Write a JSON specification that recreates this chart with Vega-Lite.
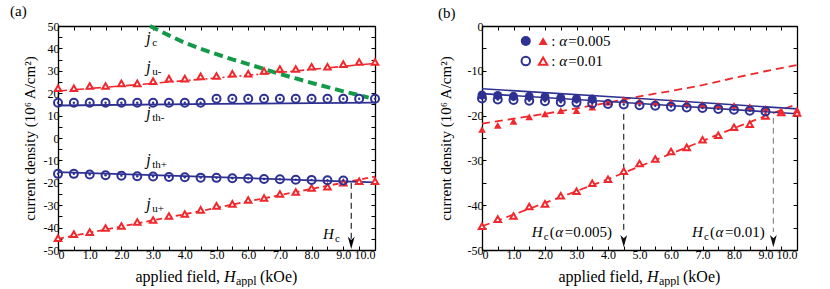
{
"$schema":"https://vega.github.io/schema/vega-lite/v6.json",
"padding":{"left":10,"top":4,"right":5,"bottom":0},
"spacing":55,
"config":{
 "view":{"stroke":null},
 "font":"Liberation Serif",
 "axis":{"domainColor":"black","domainWidth":1.3,"tickColor":"black","tickWidth":1,"tickSize":-4,"labelFont":"Liberation Serif","labelFontSize":12,"labelColor":"black","labelPadding":3,"titleFont":"Liberation Serif","titleFontSize":15,"titleFontWeight":"normal","titleColor":"black","grid":false,"labelOverlap":false,"labelBound":false},
 "title":{"font":"Liberation Serif","fontSize":15,"fontWeight":"normal","anchor":"start","frame":"bounds","offset":-1,"color":"black"},
 "text":{"font":"Liberation Serif","color":"black"}
},
"datasets":{
 "a_lines":[
  {"s":"jc","x":2.9,"y":50},{"s":"jc","x":3.5,"y":45.8},{"s":"jc","x":4,"y":42.5},{"s":"jc","x":4.5,"y":39.8},{"s":"jc","x":5,"y":37.4},{"s":"jc","x":5.5,"y":35.1},{"s":"jc","x":6,"y":33},{"s":"jc","x":6.5,"y":30.8},{"s":"jc","x":7,"y":28.6},{"s":"jc","x":7.5,"y":26.6},{"s":"jc","x":8,"y":24.6},{"s":"jc","x":8.5,"y":22.7},{"s":"jc","x":9,"y":20.8},{"s":"jc","x":9.5,"y":19.1},{"s":"jc","x":9.8,"y":18},
  {"s":"ju-","x":0,"y":21.0},{"s":"ju-","x":1,"y":22.1},{"s":"ju-","x":2,"y":23.2},{"s":"ju-","x":3,"y":24.4},{"s":"ju-","x":4,"y":25.6},{"s":"ju-","x":5,"y":26.8},{"s":"ju-","x":6,"y":28.0},{"s":"ju-","x":7,"y":29.3},{"s":"ju-","x":8,"y":30.6},{"s":"ju-","x":9,"y":32.0},{"s":"ju-","x":10,"y":33.3},
  {"s":"jth-","x":0,"y":14.5},{"s":"jth-","x":5,"y":15.2},{"s":"jth-","x":10,"y":15.8},
  {"s":"jth+","x":0,"y":-15.2},{"s":"jth+","x":2,"y":-16.1},{"s":"jth+","x":4,"y":-17.0},{"s":"jth+","x":6,"y":-17.9},{"s":"jth+","x":8,"y":-18.9},{"s":"jth+","x":10,"y":-19.8},
  {"s":"ju+","x":0,"y":-45},{"s":"ju+","x":2,"y":-39.5},{"s":"ju+","x":4,"y":-34},{"s":"ju+","x":6,"y":-28.3},{"s":"ju+","x":8,"y":-22.7},{"s":"ju+","x":10,"y":-17.2}
 ],
 "a_pts":[
  {"s":"t","x":0,"y":22.2},{"s":"t","x":0.5,"y":22.2},{"s":"t","x":1,"y":23.2},{"s":"t","x":1.5,"y":23.2},{"s":"t","x":2,"y":24.4},{"s":"t","x":2.5,"y":24.4},{"s":"t","x":3,"y":25.4},{"s":"t","x":3.5,"y":26.5},{"s":"t","x":4,"y":26.5},{"s":"t","x":4.5,"y":27.5},{"s":"t","x":5,"y":27.7},{"s":"t","x":5.5,"y":28.7},{"s":"t","x":6,"y":28.7},{"s":"t","x":6.5,"y":29.9},{"s":"t","x":7,"y":30.8},{"s":"t","x":7.5,"y":30.8},{"s":"t","x":8,"y":31.8},{"s":"t","x":8.5,"y":31.8},{"s":"t","x":9,"y":33.0},{"s":"t","x":9.5,"y":33.9},{"s":"t","x":10,"y":33.9},
  {"s":"t","x":0,"y":-44.7},{"s":"t","x":0.5,"y":-42.9},{"s":"t","x":1,"y":-42.0},{"s":"t","x":1.5,"y":-40.2},{"s":"t","x":2,"y":-39.3},{"s":"t","x":2.5,"y":-37.5},{"s":"t","x":3,"y":-36.6},{"s":"t","x":3.5,"y":-34.8},{"s":"t","x":4,"y":-33.9},{"s":"t","x":4.5,"y":-32.1},{"s":"t","x":5,"y":-30.3},{"s":"t","x":5.5,"y":-29.4},{"s":"t","x":6,"y":-27.7},{"s":"t","x":6.5,"y":-26.8},{"s":"t","x":7,"y":-25.0},{"s":"t","x":7.5,"y":-24.1},{"s":"t","x":8,"y":-22.3},{"s":"t","x":8.5,"y":-21.7},{"s":"t","x":9,"y":-20.0},{"s":"t","x":9.5,"y":-19.3},{"s":"t","x":10,"y":-19.3},
  {"s":"c","x":0,"y":15.7},{"s":"c","x":0.5,"y":15.7},{"s":"c","x":1,"y":15.7},{"s":"c","x":1.5,"y":15.7},{"s":"c","x":2,"y":15.7},{"s":"c","x":2.5,"y":15.7},{"s":"c","x":3,"y":15.7},{"s":"c","x":3.5,"y":15.7},{"s":"c","x":4,"y":15.7},{"s":"c","x":4.5,"y":15.7},{"s":"c","x":5,"y":17.5},{"s":"c","x":5.5,"y":17.5},{"s":"c","x":6,"y":17.5},{"s":"c","x":6.5,"y":17.5},{"s":"c","x":7,"y":17.5},{"s":"c","x":7.5,"y":17.5},{"s":"c","x":8,"y":17.5},{"s":"c","x":8.5,"y":17.5},{"s":"c","x":9,"y":17.5},{"s":"c","x":9.5,"y":17.5},{"s":"c","x":10,"y":17.5},
  {"s":"c","x":0,"y":-16.0},{"s":"c","x":0.5,"y":-16.0},{"s":"c","x":1,"y":-16.3},{"s":"c","x":1.5,"y":-16.6},{"s":"c","x":2,"y":-16.8},{"s":"c","x":2.5,"y":-17.1},{"s":"c","x":3,"y":-17.2},{"s":"c","x":3.5,"y":-17.4},{"s":"c","x":4,"y":-17.5},{"s":"c","x":4.5,"y":-17.7},{"s":"c","x":5,"y":-17.8},{"s":"c","x":5.5,"y":-18.0},{"s":"c","x":6,"y":-18.1},{"s":"c","x":6.5,"y":-18.3},{"s":"c","x":7,"y":-18.4},{"s":"c","x":7.5,"y":-18.6},{"s":"c","x":8,"y":-18.7},{"s":"c","x":8.5,"y":-18.9},{"s":"c","x":9,"y":-19.0}
 ],
 "a_lab":[
  {"x":2.78,"y":42.6,"m":"j","sub":"c"},{"x":2.78,"y":29.6,"m":"j","sub":"u-"},{"x":2.78,"y":9.1,"m":"j","sub":"th-"},{"x":2.78,"y":-12.2,"m":"j","sub":"th+"},{"x":2.78,"y":-31.7,"m":"j","sub":"u+"}
 ],
 "a_hc":[{"x":8.36,"y":-45.1,"m":"H","sub":"c"}],
 "a_rule":[{"x":9.25,"y":-20,"y2":-45}],
 "a_arrow":[{"x":9.25,"y":-46.8}],
 "xt":[{"x":5,"y":-50}],
 "b_lines":[
  {"s":"th1","x":0,"y":-14.0},{"s":"th1","x":5,"y":-16.2},{"s":"th1","x":10,"y":-18.5},
  {"s":"th2","x":0,"y":-15.1},{"s":"th2","x":5,"y":-17.3},{"s":"th2","x":10,"y":-19.6},
  {"s":"u1","x":0,"y":-21.8},{"s":"u1","x":1,"y":-20.7},{"s":"u1","x":2,"y":-19.6},{"s":"u1","x":3,"y":-18.4},{"s":"u1","x":4,"y":-17.1},{"s":"u1","x":5,"y":-15.7},{"s":"u1","x":6,"y":-14.5},{"s":"u1","x":7,"y":-13.2},{"s":"u1","x":8,"y":-11.6},{"s":"u1","x":9,"y":-10.1},{"s":"u1","x":10,"y":-8.7},
  {"s":"u2","x":0,"y":-44.7},{"s":"u2","x":2,"y":-39.5},{"s":"u2","x":4,"y":-34.2},{"s":"u2","x":6,"y":-28.5},{"s":"u2","x":8,"y":-22.8},{"s":"u2","x":10,"y":-17.4}
 ],
 "b_pts":[
  {"s":"ot","x":0,"y":-44.7},{"s":"ot","x":0.5,"y":-43.1},{"s":"ot","x":1,"y":-42.4},{"s":"ot","x":1.5,"y":-40.3},{"s":"ot","x":2,"y":-39.7},{"s":"ot","x":2.5,"y":-37.9},{"s":"ot","x":3,"y":-36.9},{"s":"ot","x":3.5,"y":-35.1},{"s":"ot","x":4,"y":-34.2},{"s":"ot","x":4.5,"y":-32.4},{"s":"ot","x":5,"y":-30.7},{"s":"ot","x":5.5,"y":-29.7},{"s":"ot","x":6,"y":-28.0},{"s":"ot","x":6.5,"y":-27.1},{"s":"ot","x":7,"y":-25.4},{"s":"ot","x":7.5,"y":-24.4},{"s":"ot","x":8,"y":-22.6},{"s":"ot","x":8.5,"y":-21.9},{"s":"ot","x":9,"y":-20.1},{"s":"ot","x":9.5,"y":-19.3},{"s":"ot","x":10,"y":-19.4},
  {"s":"ft","x":0,"y":-23.1},{"s":"ft","x":0.5,"y":-22.2},{"s":"ft","x":1,"y":-21.3},{"s":"ft","x":1.5,"y":-20.3},{"s":"ft","x":2,"y":-19.6},{"s":"ft","x":2.5,"y":-18.9},{"s":"ft","x":3,"y":-18.9},{"s":"ft","x":3.5,"y":-18.1},{"s":"ft","x":4,"y":-17.0},{"s":"ft","x":4.5,"y":-16.4},{"s":"ft","x":5,"y":-16.8},{"s":"ft","x":5.5,"y":-17.0},{"s":"ft","x":6,"y":-17.0},{"s":"ft","x":6.5,"y":-17.2},{"s":"ft","x":7,"y":-17.5},{"s":"ft","x":7.5,"y":-17.7},{"s":"ft","x":8,"y":-17.7},{"s":"ft","x":8.5,"y":-18.0},{"s":"ft","x":9,"y":-18.4},{"s":"ft","x":9.5,"y":-19.0},{"s":"ft","x":10,"y":-18.7},
  {"s":"oc","x":0,"y":-16.2},{"s":"oc","x":0.5,"y":-16.4},{"s":"oc","x":1,"y":-16.5},{"s":"oc","x":1.5,"y":-16.7},{"s":"oc","x":2,"y":-16.8},{"s":"oc","x":2.5,"y":-17.0},{"s":"oc","x":3,"y":-17.1},{"s":"oc","x":3.5,"y":-17.3},{"s":"oc","x":4,"y":-17.4},{"s":"oc","x":4.5,"y":-17.5},{"s":"oc","x":5,"y":-17.7},{"s":"oc","x":5.5,"y":-17.8},{"s":"oc","x":6,"y":-18.0},{"s":"oc","x":6.5,"y":-18.2},{"s":"oc","x":7,"y":-18.3},{"s":"oc","x":7.5,"y":-18.5},{"s":"oc","x":8,"y":-18.7},{"s":"oc","x":8.5,"y":-18.9},{"s":"oc","x":9,"y":-19.1},
  {"s":"fc","x":0,"y":-15.4},{"s":"fc","x":0.5,"y":-15.5},{"s":"fc","x":1,"y":-15.7},{"s":"fc","x":1.5,"y":-15.7},{"s":"fc","x":2,"y":-15.8},{"s":"fc","x":2.5,"y":-16.0},{"s":"fc","x":3,"y":-16.2},{"s":"fc","x":3.5,"y":-16.3}
 ],
 "b_leg":[{"s":"fc","x":1.39,"y":-3.36},{"s":"ft","x":1.94,"y":-3.36},{"s":"oc","x":1.39,"y":-7.83},{"s":"ot","x":1.94,"y":-7.83}],
 "b_legt":[{"x":2.2,"y":-3.36,"v":"=0.005"},{"x":2.2,"y":-7.83,"v":"=0.01"}],
 "b_hc":[{"x":1.58,"y":-47.0,"v":"=0.005)"},{"x":6.67,"y":-47.0,"v":"=0.01)"}],
 "b_rules":[{"s":"k","x":4.5,"y":-19.6,"y2":-46},{"s":"g","x":9.25,"y":-20.5,"y2":-46}],
 "b_arrows":[{"s":"k","x":4.5,"y":-48.0},{"s":"g","x":9.25,"y":-48.0}]
},
"hconcat":[
 {
  "width":317,"height":224,
  "title":{"text":"(a)","dx":-12},
  "resolve":{"axis":{"x":"independent","y":"independent"}},
  "layer":[
   {"data":{"name":"a_lines"},"transform":[{"filter":"datum.s == 'ju+'"}],
    "mark":{"type":"line","color":"#f0282d","strokeWidth":1.8,"strokeDash":[6,4]},
    "encoding":{
     "x":{"field":"x","type":"quantitative","scale":{"domain":[0,10],"nice":false},"axis":{"orient":"bottom","values":[0,0.5,1,1.5,2,2.5,3,3.5,4,4.5,5,5.5,6,6.5,7,7.5,8,8.5,9,9.5,10],"labelExpr":"datum.value == 0 ? '0' : (datum.value % 1 == 0 ? format(datum.value, '.1f') : '')","title":null}},
     "y":{"field":"y","type":"quantitative","scale":{"domain":[-50,50],"nice":false,"zero":false},"axis":{"orient":"left","values":[-50,-45,-40,-35,-30,-25,-20,-15,-10,-5,0,5,10,15,20,25,30,35,40,45,50],"labelExpr":"datum.value % 10 == 0 ? '' + datum.value : ''","title":"current density (10⁶ A/cm²)","titlePadding":6}}
    }},
   {"data":{"name":"a_lines"},"transform":[{"filter":"datum.s == 'jth+'"}],
    "mark":{"type":"line","color":"#2e3192","strokeWidth":1.8},
    "encoding":{
     "x":{"field":"x","type":"quantitative","scale":{"domain":[0,10],"nice":false},"axis":{"orient":"top","values":[0,0.5,1,1.5,2,2.5,3,3.5,4,4.5,5,5.5,6,6.5,7,7.5,8,8.5,9,9.5,10],"labels":false,"title":null}},
     "y":{"field":"y","type":"quantitative","scale":{"domain":[-50,50],"nice":false,"zero":false},"axis":{"orient":"right","values":[-50,-45,-40,-35,-30,-25,-20,-15,-10,-5,0,5,10,15,20,25,30,35,40,45,50],"labels":false,"title":null}}
    }},
   {"data":{"name":"a_lines"},"transform":[{"filter":"datum.s == 'jth-'"}],
    "mark":{"type":"line","color":"#2e3192","strokeWidth":1.8},
    "encoding":{"x":{"field":"x","type":"quantitative","scale":{"domain":[0,10],"nice":false},"axis":null},"y":{"field":"y","type":"quantitative","scale":{"domain":[-50,50],"nice":false,"zero":false},"axis":null}}},
   {"data":{"name":"a_lines"},"transform":[{"filter":"datum.s == 'ju-'"}],
    "mark":{"type":"line","color":"#f0282d","strokeWidth":1.6,"strokeDash":[9,3,2,3]},
    "encoding":{"x":{"field":"x","type":"quantitative","scale":{"domain":[0,10],"nice":false},"axis":null},"y":{"field":"y","type":"quantitative","scale":{"domain":[-50,50],"nice":false,"zero":false},"axis":null}}},
   {"data":{"name":"a_lines"},"transform":[{"filter":"datum.s == 'jc'"}],
    "mark":{"type":"line","color":"#129a48","strokeWidth":4,"strokeDash":[9,5]},
    "encoding":{"x":{"field":"x","type":"quantitative","scale":{"domain":[0,10],"nice":false},"axis":null},"y":{"field":"y","type":"quantitative","scale":{"domain":[-50,50],"nice":false,"zero":false},"axis":null}}},
   {"data":{"name":"a_rule"},
    "mark":{"type":"rule","color":"black","strokeWidth":1,"strokeDash":[6,4]},
    "encoding":{"x":{"field":"x","type":"quantitative","scale":{"domain":[0,10],"nice":false},"axis":null},"y":{"field":"y","type":"quantitative","scale":{"domain":[-50,50],"nice":false,"zero":false},"axis":null},"y2":{"field":"y2"}}},
   {"data":{"name":"a_arrow"},
    "mark":{"type":"point","shape":"M-0.55,-1L0,1L0.55,-1L0,-0.45Z","filled":true,"color":"black","size":150,"opacity":1},
    "encoding":{"x":{"field":"x","type":"quantitative","scale":{"domain":[0,10],"nice":false},"axis":null},"y":{"field":"y","type":"quantitative","scale":{"domain":[-50,50],"nice":false,"zero":false},"axis":null}}},
   {"data":{"name":"a_pts"},"transform":[{"filter":"datum.s == 't'"}],
    "mark":{"type":"point","shape":"triangle-up","filled":true,"fill":"white","stroke":"#f0282d","strokeWidth":2,"size":42,"opacity":1},
    "encoding":{"x":{"field":"x","type":"quantitative","scale":{"domain":[0,10],"nice":false},"axis":null},"y":{"field":"y","type":"quantitative","scale":{"domain":[-50,50],"nice":false,"zero":false},"axis":null}}},
   {"data":{"name":"a_pts"},"transform":[{"filter":"datum.s == 'c'"}],
    "mark":{"type":"point","shape":"circle","filled":false,"stroke":"#2e3192","strokeWidth":2,"size":64,"opacity":1},
    "encoding":{"x":{"field":"x","type":"quantitative","scale":{"domain":[0,10],"nice":false},"axis":null},"y":{"field":"y","type":"quantitative","scale":{"domain":[-50,50],"nice":false,"zero":false},"axis":null}}},
   {"data":{"name":"a_pts"},"transform":[{"filter":"datum.s == 'c'"}],
    "mark":{"type":"point","shape":"circle","filled":true,"color":"#2e3192","size":6,"opacity":1},
    "encoding":{"x":{"field":"x","type":"quantitative","scale":{"domain":[0,10],"nice":false},"axis":null},"y":{"field":"y","type":"quantitative","scale":{"domain":[-50,50],"nice":false,"zero":false},"axis":null}}},
   {"data":{"name":"a_lab"},
    "mark":{"type":"text","align":"left","baseline":"alphabetic","fontSize":16,"fontStyle":"italic"},
    "encoding":{"x":{"field":"x","type":"quantitative","scale":{"domain":[0,10],"nice":false},"axis":null},"y":{"field":"y","type":"quantitative","scale":{"domain":[-50,50],"nice":false,"zero":false},"axis":null},"text":{"field":"m"}}},
   {"data":{"name":"a_lab"},
    "mark":{"type":"text","align":"left","baseline":"alphabetic","fontSize":11,"dx":6,"dy":3},
    "encoding":{"x":{"field":"x","type":"quantitative","scale":{"domain":[0,10],"nice":false},"axis":null},"y":{"field":"y","type":"quantitative","scale":{"domain":[-50,50],"nice":false,"zero":false},"axis":null},"text":{"field":"sub"}}},
   {"data":{"name":"a_hc"},
    "mark":{"type":"text","align":"left","baseline":"alphabetic","fontSize":15,"fontStyle":"italic"},
    "encoding":{"x":{"field":"x","type":"quantitative","scale":{"domain":[0,10],"nice":false},"axis":null},"y":{"field":"y","type":"quantitative","scale":{"domain":[-50,50],"nice":false,"zero":false},"axis":null},"text":{"field":"m"}}},
   {"data":{"name":"a_hc"},
    "mark":{"type":"text","align":"left","baseline":"alphabetic","fontSize":11,"dx":12,"dy":3},
    "encoding":{"x":{"field":"x","type":"quantitative","scale":{"domain":[0,10],"nice":false},"axis":null},"y":{"field":"y","type":"quantitative","scale":{"domain":[-50,50],"nice":false,"zero":false},"axis":null},"text":{"field":"sub"}}},
   {"data":{"name":"xt"},
    "mark":{"type":"text","text":"applied field,","align":"left","baseline":"alphabetic","fontSize":16,"dx":-81,"dy":32},
    "encoding":{"x":{"field":"x","type":"quantitative","scale":{"domain":[0,10],"nice":false},"axis":null},"y":{"field":"y","type":"quantitative","scale":{"domain":[-50,50],"nice":false,"zero":false},"axis":null}}},
   {"data":{"name":"xt"},
    "mark":{"type":"text","text":"H","align":"left","baseline":"alphabetic","fontSize":16,"fontStyle":"italic","dx":7.4,"dy":32},
    "encoding":{"x":{"field":"x","type":"quantitative","scale":{"domain":[0,10],"nice":false},"axis":null},"y":{"field":"y","type":"quantitative","scale":{"domain":[-50,50],"nice":false,"zero":false},"axis":null}}},
   {"data":{"name":"xt"},
    "mark":{"type":"text","text":"appl","align":"left","baseline":"alphabetic","fontSize":12,"dx":19.5,"dy":35},
    "encoding":{"x":{"field":"x","type":"quantitative","scale":{"domain":[0,10],"nice":false},"axis":null},"y":{"field":"y","type":"quantitative","scale":{"domain":[-50,50],"nice":false,"zero":false},"axis":null}}},
   {"data":{"name":"xt"},
    "mark":{"type":"text","text":"(kOe)","align":"left","baseline":"alphabetic","fontSize":16,"dx":43.5,"dy":32},
    "encoding":{"x":{"field":"x","type":"quantitative","scale":{"domain":[0,10],"nice":false},"axis":null},"y":{"field":"y","type":"quantitative","scale":{"domain":[-50,50],"nice":false,"zero":false},"axis":null}}}
  ]
 },
 {
  "width":315,"height":224,
  "title":{"text":"(b)"},
  "resolve":{"axis":{"x":"independent","y":"independent"}},
  "layer":[
   {"data":{"name":"b_lines"},"transform":[{"filter":"datum.s == 'u2'"}],
    "mark":{"type":"line","color":"#f0282d","strokeWidth":1.8,"strokeDash":[8,5]},
    "encoding":{
     "x":{"field":"x","type":"quantitative","scale":{"domain":[0,10],"nice":false},"axis":{"orient":"bottom","values":[0,0.5,1,1.5,2,2.5,3,3.5,4,4.5,5,5.5,6,6.5,7,7.5,8,8.5,9,9.5,10],"labelExpr":"datum.value == 0 ? '0' : (datum.value % 1 == 0 ? format(datum.value, '.1f') : '')","title":null}},
     "y":{"field":"y","type":"quantitative","scale":{"domain":[-50,0],"nice":false,"zero":false},"axis":{"orient":"left","values":[-50,-45,-40,-35,-30,-25,-20,-15,-10,-5,0],"labelExpr":"datum.value % 10 == 0 ? '' + datum.value : ''","title":"current density (10⁶ A/cm²)","titlePadding":14}}
    }},
   {"data":{"name":"b_lines"},"transform":[{"filter":"datum.s == 'u1'"}],
    "mark":{"type":"line","color":"#f0282d","strokeWidth":1.8,"strokeDash":[8,5]},
    "encoding":{
     "x":{"field":"x","type":"quantitative","scale":{"domain":[0,10],"nice":false},"axis":{"orient":"top","values":[0,0.5,1,1.5,2,2.5,3,3.5,4,4.5,5,5.5,6,6.5,7,7.5,8,8.5,9,9.5,10],"labels":false,"title":null}},
     "y":{"field":"y","type":"quantitative","scale":{"domain":[-50,0],"nice":false,"zero":false},"axis":{"orient":"right","values":[-50,-45,-40,-35,-30,-25,-20,-15,-10,-5,0],"labels":false,"title":null}}
    }},
   {"data":{"name":"b_lines"},"transform":[{"filter":"datum.s == 'th1' || datum.s == 'th2'"}],
    "mark":{"type":"line","color":"#2e3192","strokeWidth":1.6},
    "encoding":{"x":{"field":"x","type":"quantitative","scale":{"domain":[0,10],"nice":false},"axis":null},"y":{"field":"y","type":"quantitative","scale":{"domain":[-50,0],"nice":false,"zero":false},"axis":null},"detail":{"field":"s"}}},
   {"data":{"name":"b_rules"},"transform":[{"filter":"datum.s == 'k'"}],
    "mark":{"type":"rule","color":"black","strokeWidth":1,"strokeDash":[6,4]},
    "encoding":{"x":{"field":"x","type":"quantitative","scale":{"domain":[0,10],"nice":false},"axis":null},"y":{"field":"y","type":"quantitative","scale":{"domain":[-50,0],"nice":false,"zero":false},"axis":null},"y2":{"field":"y2"}}},
   {"data":{"name":"b_rules"},"transform":[{"filter":"datum.s == 'g'"}],
    "mark":{"type":"rule","color":"#8c8c8c","strokeWidth":1.2,"strokeDash":[6,4]},
    "encoding":{"x":{"field":"x","type":"quantitative","scale":{"domain":[0,10],"nice":false},"axis":null},"y":{"field":"y","type":"quantitative","scale":{"domain":[-50,0],"nice":false,"zero":false},"axis":null},"y2":{"field":"y2"}}},
   {"data":{"name":"b_arrows"},
    "mark":{"type":"point","shape":"M-0.55,-1L0,1L0.55,-1L0,-0.45Z","filled":true,"color":"#111","size":150,"opacity":1},
    "encoding":{"x":{"field":"x","type":"quantitative","scale":{"domain":[0,10],"nice":false},"axis":null},"y":{"field":"y","type":"quantitative","scale":{"domain":[-50,0],"nice":false,"zero":false},"axis":null}}},
   {"data":{"name":"b_pts"},"transform":[{"filter":"datum.s == 'ot'"}],
    "mark":{"type":"point","shape":"triangle-up","filled":true,"fill":"white","stroke":"#f0282d","strokeWidth":2,"size":42,"opacity":1},
    "encoding":{"x":{"field":"x","type":"quantitative","scale":{"domain":[0,10],"nice":false},"axis":null},"y":{"field":"y","type":"quantitative","scale":{"domain":[-50,0],"nice":false,"zero":false},"axis":null}}},
   {"data":{"name":"b_pts"},"transform":[{"filter":"datum.s == 'ft'"}],
    "mark":{"type":"point","shape":"triangle-up","filled":true,"color":"#f0282d","size":60,"opacity":1},
    "encoding":{"x":{"field":"x","type":"quantitative","scale":{"domain":[0,10],"nice":false},"axis":null},"y":{"field":"y","type":"quantitative","scale":{"domain":[-50,0],"nice":false,"zero":false},"axis":null}}},
   {"data":{"name":"b_pts"},"transform":[{"filter":"datum.s == 'oc'"}],
    "mark":{"type":"point","shape":"circle","filled":false,"stroke":"#2e3192","strokeWidth":2,"size":64,"opacity":1},
    "encoding":{"x":{"field":"x","type":"quantitative","scale":{"domain":[0,10],"nice":false},"axis":null},"y":{"field":"y","type":"quantitative","scale":{"domain":[-50,0],"nice":false,"zero":false},"axis":null}}},
   {"data":{"name":"b_pts"},"transform":[{"filter":"datum.s == 'oc'"}],
    "mark":{"type":"point","shape":"circle","filled":true,"color":"#2e3192","size":6,"opacity":1},
    "encoding":{"x":{"field":"x","type":"quantitative","scale":{"domain":[0,10],"nice":false},"axis":null},"y":{"field":"y","type":"quantitative","scale":{"domain":[-50,0],"nice":false,"zero":false},"axis":null}}},
   {"data":{"name":"b_pts"},"transform":[{"filter":"datum.s == 'fc'"}],
    "mark":{"type":"point","shape":"circle","filled":true,"color":"#2e3192","size":80,"opacity":1},
    "encoding":{"x":{"field":"x","type":"quantitative","scale":{"domain":[0,10],"nice":false},"axis":null},"y":{"field":"y","type":"quantitative","scale":{"domain":[-50,0],"nice":false,"zero":false},"axis":null}}},
   {"data":{"name":"b_leg"},"transform":[{"filter":"datum.s == 'fc'"}],
    "mark":{"type":"point","shape":"circle","filled":true,"color":"#2e3192","size":100,"opacity":1},
    "encoding":{"x":{"field":"x","type":"quantitative","scale":{"domain":[0,10],"nice":false},"axis":null},"y":{"field":"y","type":"quantitative","scale":{"domain":[-50,0],"nice":false,"zero":false},"axis":null}}},
   {"data":{"name":"b_leg"},"transform":[{"filter":"datum.s == 'oc'"}],
    "mark":{"type":"point","shape":"circle","filled":false,"stroke":"#2e3192","strokeWidth":2,"size":72,"opacity":1},
    "encoding":{"x":{"field":"x","type":"quantitative","scale":{"domain":[0,10],"nice":false},"axis":null},"y":{"field":"y","type":"quantitative","scale":{"domain":[-50,0],"nice":false,"zero":false},"axis":null}}},
   {"data":{"name":"b_leg"},"transform":[{"filter":"datum.s == 'ft'"}],
    "mark":{"type":"point","shape":"triangle-up","filled":true,"color":"#f0282d","size":80,"opacity":1},
    "encoding":{"x":{"field":"x","type":"quantitative","scale":{"domain":[0,10],"nice":false},"axis":null},"y":{"field":"y","type":"quantitative","scale":{"domain":[-50,0],"nice":false,"zero":false},"axis":null}}},
   {"data":{"name":"b_leg"},"transform":[{"filter":"datum.s == 'ot'"}],
    "mark":{"type":"point","shape":"triangle-up","filled":true,"fill":"white","stroke":"#f0282d","strokeWidth":2,"size":70,"opacity":1},
    "encoding":{"x":{"field":"x","type":"quantitative","scale":{"domain":[0,10],"nice":false},"axis":null},"y":{"field":"y","type":"quantitative","scale":{"domain":[-50,0],"nice":false,"zero":false},"axis":null}}},
   {"data":{"name":"b_legt"},
    "mark":{"type":"text","text":":","align":"left","baseline":"middle","fontSize":15},
    "encoding":{"x":{"field":"x","type":"quantitative","scale":{"domain":[0,10],"nice":false},"axis":null},"y":{"field":"y","type":"quantitative","scale":{"domain":[-50,0],"nice":false,"zero":false},"axis":null}}},
   {"data":{"name":"b_legt"},
    "mark":{"type":"text","text":"α","align":"left","baseline":"middle","fontSize":15,"fontStyle":"italic","dx":8},
    "encoding":{"x":{"field":"x","type":"quantitative","scale":{"domain":[0,10],"nice":false},"axis":null},"y":{"field":"y","type":"quantitative","scale":{"domain":[-50,0],"nice":false,"zero":false},"axis":null}}},
   {"data":{"name":"b_legt"},
    "mark":{"type":"text","align":"left","baseline":"middle","fontSize":15,"dx":17},
    "encoding":{"x":{"field":"x","type":"quantitative","scale":{"domain":[0,10],"nice":false},"axis":null},"y":{"field":"y","type":"quantitative","scale":{"domain":[-50,0],"nice":false,"zero":false},"axis":null},"text":{"field":"v"}}},
   {"data":{"name":"b_hc"},
    "mark":{"type":"text","text":"H","align":"left","baseline":"alphabetic","fontSize":15,"fontStyle":"italic"},
    "encoding":{"x":{"field":"x","type":"quantitative","scale":{"domain":[0,10],"nice":false},"axis":null},"y":{"field":"y","type":"quantitative","scale":{"domain":[-50,0],"nice":false,"zero":false},"axis":null}}},
   {"data":{"name":"b_hc"},
    "mark":{"type":"text","text":"c","align":"left","baseline":"alphabetic","fontSize":11,"dx":12,"dy":3},
    "encoding":{"x":{"field":"x","type":"quantitative","scale":{"domain":[0,10],"nice":false},"axis":null},"y":{"field":"y","type":"quantitative","scale":{"domain":[-50,0],"nice":false,"zero":false},"axis":null}}},
   {"data":{"name":"b_hc"},
    "mark":{"type":"text","text":"(","align":"left","baseline":"alphabetic","fontSize":15,"dx":18},
    "encoding":{"x":{"field":"x","type":"quantitative","scale":{"domain":[0,10],"nice":false},"axis":null},"y":{"field":"y","type":"quantitative","scale":{"domain":[-50,0],"nice":false,"zero":false},"axis":null}}},
   {"data":{"name":"b_hc"},
    "mark":{"type":"text","text":"α","align":"left","baseline":"alphabetic","fontSize":15,"fontStyle":"italic","dx":23.5},
    "encoding":{"x":{"field":"x","type":"quantitative","scale":{"domain":[0,10],"nice":false},"axis":null},"y":{"field":"y","type":"quantitative","scale":{"domain":[-50,0],"nice":false,"zero":false},"axis":null}}},
   {"data":{"name":"b_hc"},
    "mark":{"type":"text","align":"left","baseline":"alphabetic","fontSize":15,"dx":33},
    "encoding":{"x":{"field":"x","type":"quantitative","scale":{"domain":[0,10],"nice":false},"axis":null},"y":{"field":"y","type":"quantitative","scale":{"domain":[-50,0],"nice":false,"zero":false},"axis":null},"text":{"field":"v"}}},
   {"data":{"name":"xt"},
    "mark":{"type":"text","text":"applied field,","align":"left","baseline":"alphabetic","fontSize":16,"dx":-81,"dy":32},
    "encoding":{"x":{"field":"x","type":"quantitative","scale":{"domain":[0,10],"nice":false},"axis":null},"y":{"field":"y","type":"quantitative","scale":{"domain":[-50,0],"nice":false,"zero":false},"axis":null}}},
   {"data":{"name":"xt"},
    "mark":{"type":"text","text":"H","align":"left","baseline":"alphabetic","fontSize":16,"fontStyle":"italic","dx":7.4,"dy":32},
    "encoding":{"x":{"field":"x","type":"quantitative","scale":{"domain":[0,10],"nice":false},"axis":null},"y":{"field":"y","type":"quantitative","scale":{"domain":[-50,0],"nice":false,"zero":false},"axis":null}}},
   {"data":{"name":"xt"},
    "mark":{"type":"text","text":"appl","align":"left","baseline":"alphabetic","fontSize":12,"dx":19.5,"dy":35},
    "encoding":{"x":{"field":"x","type":"quantitative","scale":{"domain":[0,10],"nice":false},"axis":null},"y":{"field":"y","type":"quantitative","scale":{"domain":[-50,0],"nice":false,"zero":false},"axis":null}}},
   {"data":{"name":"xt"},
    "mark":{"type":"text","text":"(kOe)","align":"left","baseline":"alphabetic","fontSize":16,"dx":43.5,"dy":32},
    "encoding":{"x":{"field":"x","type":"quantitative","scale":{"domain":[0,10],"nice":false},"axis":null},"y":{"field":"y","type":"quantitative","scale":{"domain":[-50,0],"nice":false,"zero":false},"axis":null}}}
  ]
 }
]
}
